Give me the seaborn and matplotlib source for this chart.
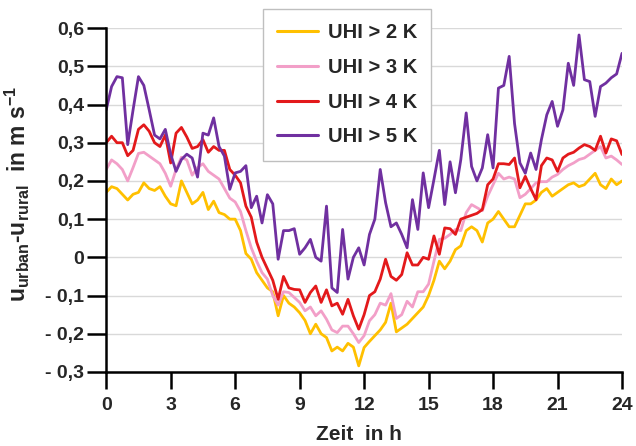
import numpy as np
import pandas as pd
import seaborn as sns
import matplotlib.pyplot as plt

# time axis: 15 minute steps over one day
hours = np.arange(0, 24.01, 0.25)

uhi2 = [0.17, 0.185, 0.18, 0.165, 0.15, 0.165, 0.17, 0.195, 0.18, 0.175, 0.185, 0.16,
        0.14, 0.135, 0.20, 0.17, 0.14, 0.15, 0.17, 0.125, 0.147, 0.117, 0.112, 0.10,
        0.10, 0.07, 0.01, -0.005, -0.04, -0.06, -0.08, -0.09, -0.153, -0.10, -0.12, -0.13,
        -0.145, -0.165, -0.20, -0.175, -0.20, -0.21, -0.245, -0.235, -0.245, -0.225, -0.235, -0.284,
        -0.236, -0.22, -0.205, -0.19, -0.17, -0.12, -0.195, -0.185, -0.175, -0.16, -0.145, -0.13,
        -0.10, -0.06, -0.01, -0.03, -0.01, 0.02, 0.03, 0.07, 0.08, 0.07, 0.04, 0.09,
        0.10, 0.12, 0.10, 0.08, 0.08, 0.11, 0.14, 0.14, 0.15, 0.17, 0.18, 0.16,
        0.17, 0.18, 0.19, 0.195, 0.185, 0.19, 0.205, 0.22, 0.19, 0.18, 0.205, 0.19, 0.20]

uhi3 = [0.23, 0.255, 0.245, 0.23, 0.20, 0.235, 0.272, 0.275, 0.265, 0.255, 0.245, 0.22,
        0.186, 0.23, 0.262, 0.255, 0.215, 0.235, 0.245, 0.225, 0.215, 0.205, 0.18, 0.155,
        0.145, 0.12, 0.07, 0.025, -0.01, -0.04, -0.057, -0.10, -0.125, -0.09, -0.092, -0.105,
        -0.118, -0.14, -0.13, -0.153, -0.14, -0.162, -0.19, -0.197, -0.18, -0.18, -0.20, -0.223,
        -0.205, -0.166, -0.15, -0.12, -0.125, -0.095, -0.16, -0.15, -0.115, -0.13, -0.09, -0.09,
        -0.07, -0.01, 0.047, 0.05, 0.06, 0.073, 0.07, 0.117, 0.138, 0.13, 0.122, 0.16,
        0.19, 0.22, 0.205, 0.21, 0.205, 0.156, 0.165, 0.18, 0.195, 0.198, 0.198, 0.21,
        0.217, 0.23, 0.24, 0.247, 0.256, 0.26, 0.27, 0.28, 0.29, 0.26, 0.265, 0.255, 0.243]

uhi4 = [0.30, 0.317, 0.30, 0.30, 0.266, 0.28, 0.335, 0.347, 0.33, 0.30, 0.29, 0.32,
        0.247, 0.325, 0.34, 0.315, 0.285, 0.29, 0.308, 0.275, 0.29, 0.28, 0.28, 0.23,
        0.215, 0.195, 0.134, 0.105, 0.04, 0.0, -0.03, -0.06, -0.11, -0.05, -0.08, -0.084,
        -0.085, -0.118, -0.092, -0.075, -0.118, -0.085, -0.127, -0.12, -0.149, -0.11, -0.153, -0.188,
        -0.15, -0.10, -0.09, -0.057, -0.005, -0.05, -0.06, -0.045, 0.012, -0.02, -0.02, 0.0,
        -0.005, 0.056, 0.008, 0.077, 0.075, 0.06, 0.10, 0.105, 0.11, 0.115, 0.125, 0.19,
        0.205, 0.245, 0.245, 0.243, 0.26, 0.182, 0.212, 0.18, 0.151, 0.24, 0.26, 0.255,
        0.225, 0.26, 0.27, 0.275, 0.286, 0.295, 0.29, 0.28, 0.317, 0.273, 0.31, 0.305, 0.269]

uhi5 = [0.386, 0.447, 0.473, 0.47, 0.295, 0.386, 0.473, 0.45, 0.386, 0.32, 0.31, 0.335,
        0.27, 0.225, 0.256, 0.27, 0.26, 0.21, 0.325, 0.32, 0.365, 0.29, 0.265, 0.178,
        0.221, 0.225, 0.24, 0.13, 0.16, 0.09, 0.164, 0.14, -0.005, 0.07, 0.07, 0.075,
        0.008, 0.025, 0.047, 0.0, -0.01, 0.134, -0.08, -0.092, 0.073, -0.057, 0.0, 0.025,
        -0.02, 0.06, 0.10, 0.23, 0.143, 0.08, 0.09, 0.06, 0.025, 0.151, 0.073, 0.221,
        0.13, 0.204, 0.28, 0.138, 0.25, 0.169, 0.256, 0.378, 0.238, 0.20, 0.234, 0.321,
        0.234, 0.443, 0.45, 0.526, 0.35, 0.247, 0.22, 0.273, 0.23, 0.308, 0.373, 0.408,
        0.343, 0.386, 0.508, 0.45, 0.582, 0.465, 0.46, 0.369, 0.447, 0.456, 0.47, 0.48, 0.534]

labels = ["UHI > 2 K", "UHI > 3 K", "UHI > 4 K", "UHI > 5 K"]
colors = ["#FFC000", "#F29FC8", "#E3191B", "#7030A0"]

x_ticks = [0, 3, 6, 9, 12, 15, 18, 21, 24]
y_ticks = [-0.3, -0.2, -0.1, 0, 0.1, 0.2, 0.3, 0.4, 0.5, 0.6]
y_ticklabels = ["- 0,3", "- 0,2", "- 0,1", "0", "0,1", "0,2", "0,3", "0,4", "0,5", "0,6"]

df = pd.concat([
    pd.DataFrame({"Zeit": hours, "du": vals, "Gruppe": lab})
    for vals, lab in zip([uhi2, uhi3, uhi4, uhi5], labels)
])

sns.set_theme(style="white")
plt.rcParams["font.family"] = ["Liberation Sans", "DejaVu Sans"]
plt.rcParams["mathtext.fontset"] = "custom"
plt.rcParams["mathtext.rm"] = "Liberation Sans:bold"
plt.rcParams["mathtext.it"] = "Liberation Sans:bold"
plt.rcParams["mathtext.bf"] = "Liberation Sans:bold"

fig = plt.figure(figsize=(6.36, 4.46), dpi=100)
ax = fig.add_axes([0.167, 0.166, 0.811, 0.771])

sns.lineplot(data=df, x="Zeit", y="du", hue="Gruppe", palette=colors,
             linewidth=2.0, ax=ax)

ax.set_xlim(0, 24)
ax.set_ylim(-0.3, 0.6)
ax.set_xticks(x_ticks)
ax.set_yticks(y_ticks)
ax.set_yticklabels(y_ticklabels)
ax.grid(axis="y", color="#d9d9d9", linewidth=1)
ax.grid(axis="x", visible=False)

for side in ["top", "right"]:
    ax.spines[side].set_visible(False)
for side in ["left", "bottom"]:
    ax.spines[side].set_color("black")
    ax.spines[side].set_linewidth(1.8)

ax.tick_params(axis="both", which="major", direction="out", width=1.8,
               color="black", labelsize=14, left=True, bottom=True)
ax.tick_params(axis="x", length=12, pad=6)
ax.tick_params(axis="y", length=14, pad=2)
for t in ax.get_xticklabels() + ax.get_yticklabels():
    t.set_fontweight("bold")

ax.set_xlabel("Zeit  in h", fontsize=15, fontweight="bold")
ax.xaxis.set_label_coords(0.49, -0.155)
ax.set_ylabel(r"$\mathregular{u_{urban}}$-$\mathregular{u_{rural}}$  in m s$^{\mathregular{-1}}$",
              fontsize=16.5, fontweight="bold")
ax.yaxis.set_label_coords(-0.143, 0.517)

leg = ax.legend(loc="upper center", bbox_to_anchor=(0.467, 1.055), frameon=True,
                fancybox=False, edgecolor="#bfbfbf", framealpha=1,
                prop={"weight": "bold", "size": 14.5}, handlelength=2.0,
                labelspacing=0.78, borderpad=0.7, handletextpad=0.5,
                borderaxespad=0)
leg.get_frame().set_linewidth(1)
for line in leg.get_lines():
    line.set_linewidth(2.2)

fig.savefig("out.png", dpi=100)
